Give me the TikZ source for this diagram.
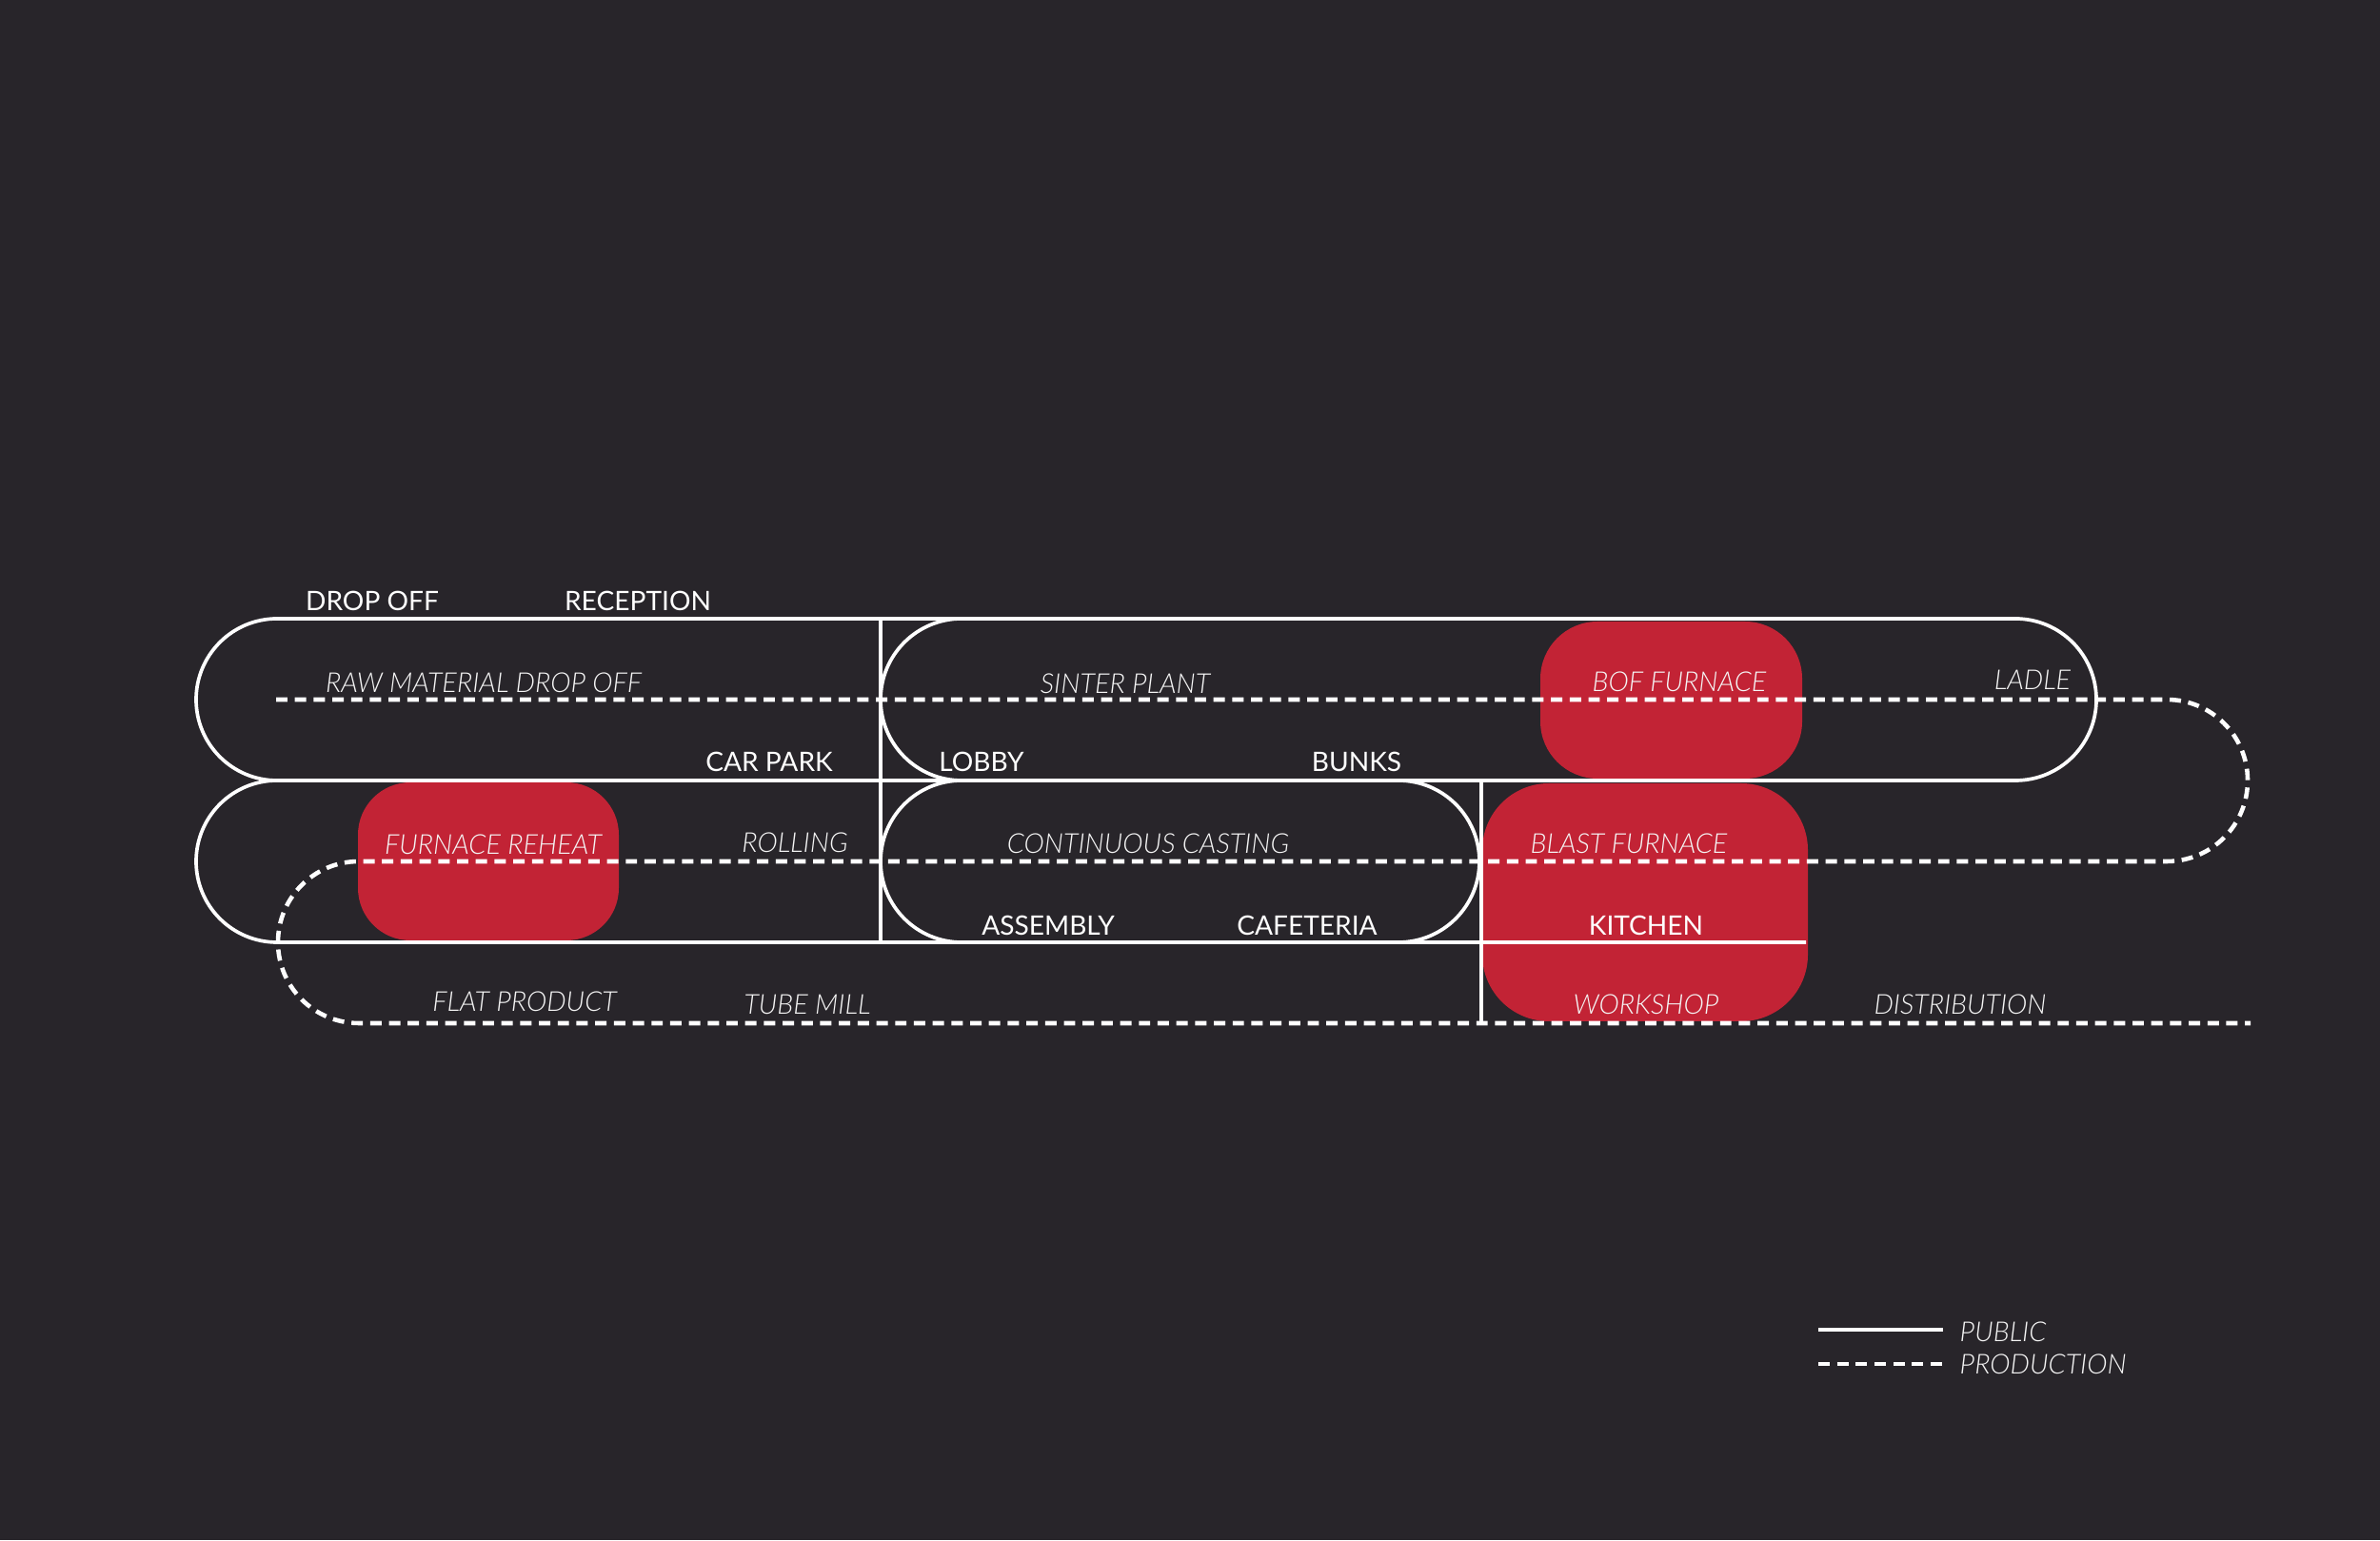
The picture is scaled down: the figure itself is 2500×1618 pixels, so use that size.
\documentclass[tikz,border=0pt]{standalone}
\usepackage{fontspec}
\setmainfont{Lato}[UprightFont={* Light}, ItalicFont={* Light Italic}]
\newfontfamily\roomfont{Lato}
\usetikzlibrary{positioning}
\usepackage{xcolor}
\definecolor{bggray}{RGB}{40,37,42}
\definecolor{furnacered}{RGB}{194,35,53}

\begin{document}
\begin{tikzpicture}[x=0.01cm, y=0.01cm,
    public/.style={draw=white, line width=1.05pt},
    production/.style={draw=white, line width=1.3pt, dash pattern=on 3.4pt off 2.2pt},
    furnace/.style={fill=furnacered},
    room/.style={text=white, inner sep=0pt, font=\roomfont\fontsize{8}{9}\selectfont},
    process/.style={text=gray!8, inner sep=0pt, font=\fontsize{8.2}{9}\selectfont\itshape}]
    \fill[bggray] (0,0) rectangle (2500,1618);
    % furnaces
    \fill[furnace, rounded corners=0.55cm] (376,630) rectangle (650,796);
    \fill[furnace, rounded corners=0.6cm] (1618,800) rectangle (1893,965);
    \fill[furnace, rounded corners=0.7cm] (1557,545) rectangle (1899,795);
    % public
    \draw[public] (291,968) -- (2117,968) arc[start angle=90, end angle=-90, radius=85]
        -- (291,798) arc[start angle=270, end angle=90, radius=85] -- cycle;
    \draw[public] (291,798) arc[start angle=90, end angle=270, radius=85] -- (1897,628);
    \draw[public] (925,968) -- (925,628);
    \draw[public] (1010,968) arc[start angle=90, end angle=270, radius=85];
    \draw[public] (1010,798) arc[start angle=90, end angle=270, radius=85]
        -- (1469,628) arc[start angle=-90, end angle=90, radius=85];
    \draw[public] (1556,798) -- (1556,543);
    % production
    \draw[production] (290,883) -- (2276,883) arc[start angle=90, end angle=-90, radius=85]
        -- (377,713) arc[start angle=90, end angle=270, radius=85] -- (2364,543);
    % rooms
    \node[room] (dropoff) at (391,987) {DROP OFF};
    \node[room] (reception) at (670,987) {RECEPTION};
    \node[room] (carpark) at (808,818) {CAR PARK};
    \node[room] (lobby) at (1031,818) {LOBBY};
    \node[room] (bunks) at (1425,818) {BUNKS};
    \node[room] (assembly) at (1101,646) {ASSEMBLY};
    \node[room] (cafeteria) at (1373,646) {CAFETERIA};
    \node[room] (kitchen) at (1729,646) {KITCHEN};
    % processes
    \node[process] (rawdrop) at (508,901) {RAW MATERIAL DROP OFF};
    \node[process] (sinter) at (1182,900) {SINTER PLANT};
    \node[process] (bof) at (1764,902) {BOF FURNACE};
    \node[process] (ladle) at (2135,904) {LADLE};
    \node[process] (reheat) at (518,731) {FURNACE REHEAT};
    \node[process] (rolling) at (835,733) {ROLLING};
    \node[process] (casting) at (1206,732) {CONTINUOUS CASTING};
    \node[process] (blast) at (1711,732) {BLAST FURNACE};
    \node[process] (flatprod) at (551,566) {FLAT PRODUCT};
    \node[process] (tubemill) at (848,563) {TUBE MILL};
    \node[process] (workshop) at (1729,563) {WORKSHOP};
    \node[process] (distrib) at (2059,563) {DISTRIBUTION};
    % legend
    \coordinate (pubA) at (1910,221);
    \coordinate (pubB) at (2041,221);
    \coordinate (prodA) at (1910,185);
    \coordinate (prodB) at (2041,185);
    \draw[public, line width=1.2pt] (pubA) -- (pubB);
    \draw[production] (prodA) -- (prodB);
    \node[process, anchor=west] (publickey) at (2058,219) {PUBLIC};
    \node[process, anchor=west] (prodkey) at (2058,185) {PRODUCTION};
\end{tikzpicture}
\end{document}
